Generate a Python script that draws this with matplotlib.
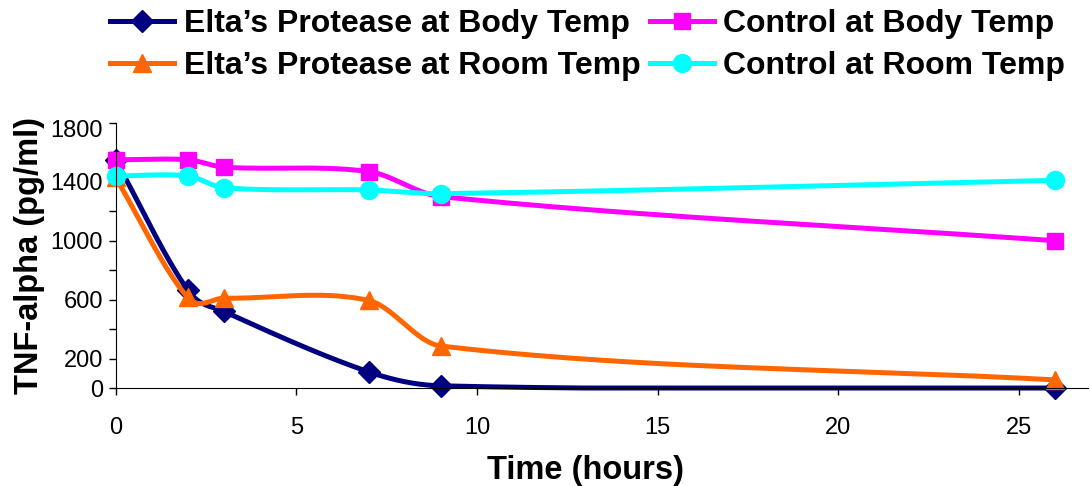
import numpy as np
import matplotlib
matplotlib.use("Agg")
import matplotlib.pyplot as plt
import matplotlib.transforms as mtransforms

plt.rcParams['font.family'] = ['Liberation Sans', 'DejaVu Sans']

hours = [0, 2, 3, 7, 9, 26]
protease_body = [1550, 665, 520, 110, 15, 0]
protease_room = [1430, 615, 610, 595, 285, 55]
control_body = [1550, 1550, 1500, 1470, 1300, 1000]
control_room = [1440, 1440, 1360, 1345, 1320, 1410]

y_ticks = [0, 200, 400, 600, 800, 1000, 1200, 1400, 1600, 1800]
y_labels = ['0', '200', '', '600', '', '1000', '', '1400', '', '1800']


def smooth(x, y, n=40):
    # cubic Hermite through the points (Catmull-Rom tangents), for the smoothed look
    x = np.asarray(x, float)
    y = np.asarray(y, float)
    m = np.zeros_like(y)
    m[1:-1] = (y[2:] - y[:-2]) / (x[2:] - x[:-2])
    m[0] = (y[1] - y[0]) / (x[1] - x[0])
    m[-1] = (y[-1] - y[-2]) / (x[-1] - x[-2])
    xs, ys = [], []
    t = np.linspace(0, 1, n)
    for i in range(len(x) - 1):
        h = x[i + 1] - x[i]
        h00 = 2 * t ** 3 - 3 * t ** 2 + 1
        h10 = t ** 3 - 2 * t ** 2 + t
        h01 = -2 * t ** 3 + 3 * t ** 2
        h11 = t ** 3 - t ** 2
        xs.extend(x[i] + h * t)
        ys.extend(h00 * y[i] + h10 * h * m[i] + h01 * y[i + 1] + h11 * h * m[i + 1])
    return np.array(xs), np.clip(np.array(ys), 0, None)


fig = plt.figure(figsize=(10.9, 4.86), dpi=100)
ax = fig.add_axes([0.106, 0.2016, 0.892, 0.5454])

series = [
    (protease_body, '#000080', 'D', 11, "Elta\u2019s Protease at Body Temp"),
    (control_body, '#FF00FF', 's', 11, "Control at Body Temp"),
    (protease_room, '#FF6600', '^', 13, "Elta\u2019s Protease at Room Temp"),
    (control_room, '#00FFFF', 'o', 13, "Control at Room Temp"),
]
handles = {}
for vals, col, mk, ms, lab in series:
    sx, sy = smooth(hours, vals)
    ax.plot(sx, sy, color=col, lw=3.6, solid_capstyle='round', solid_joinstyle='round')
    ax.plot(hours, vals, ls='none', marker=mk, ms=ms, color=col, mec=col)
    h, = ax.plot([], [], color=col, lw=3.6, marker=mk, ms=ms, mec=col, label=lab)
    handles[lab] = h

order = ["Elta\u2019s Protease at Body Temp", "Elta\u2019s Protease at Room Temp",
         "Control at Body Temp", "Control at Room Temp"]
fig.legend([handles[k] for k in order], order, ncol=2, loc='upper left',
           bbox_to_anchor=(0.101, 0.982), frameon=False, borderpad=0, borderaxespad=0,
           prop={'weight': 'bold', 'size': 23}, handlelength=2.0,
           columnspacing=0.3, handletextpad=0.3, labelspacing=0.39)

ax.set_xlim(0, 26.9)
ax.set_ylim(0, 1800)
ax.set_xticks([0, 5, 10, 15, 20, 25])
ax.set_yticks(y_ticks)
ax.set_yticklabels(y_labels)
ax.tick_params(labelsize=17, length=5, width=1, pad=4)
ax.tick_params(axis='x', pad=16)
ax.spines['top'].set_visible(False)
ax.spines['right'].set_visible(False)
ax.set_xlabel('Time (hours)', fontsize=23.5, fontweight='bold')
ax.xaxis.set_label_coords(0.4835, -0.252)
ax.set_ylabel('TNF-alpha (pg/ml)', fontsize=23.5, fontweight='bold', labelpad=4)
for lin in ax.lines:
    lin.set_clip_on(False)

# top label sits a little below its tick, as in the original
top_lab = ax.get_yticklabels()[-1]
top_lab.set_transform(top_lab.get_transform() +
                      mtransforms.ScaledTranslation(0, -6 / 100, fig.dpi_scale_trans))

fig.savefig('out.png', dpi=100)
